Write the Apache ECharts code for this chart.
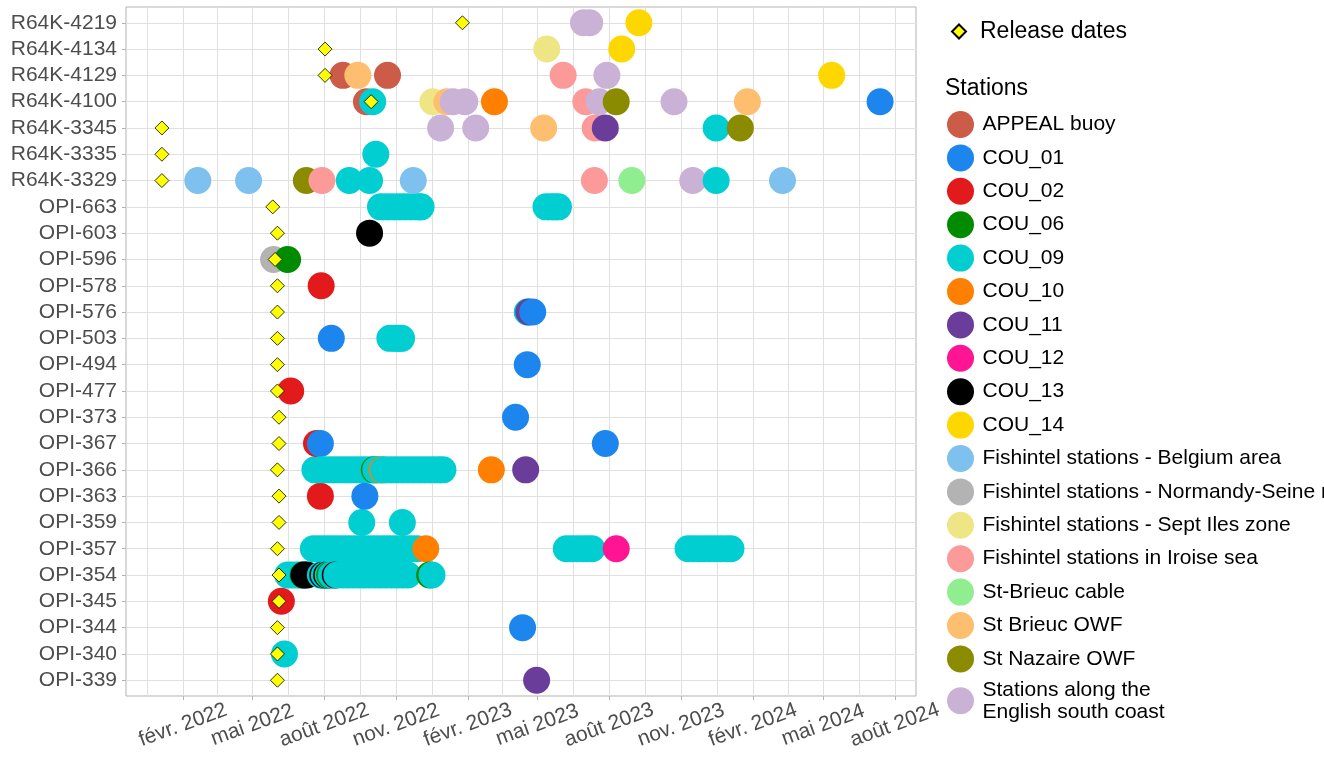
<!DOCTYPE html>
<html>
<head>
<meta charset="utf-8">
<script src="https://cdn.jsdelivr.net/npm/echarts@6/dist/echarts.min.js"></script>
<style>
  html, body { margin: 0; padding: 0; background: #fff; }
  #chart { width: 1324px; height: 764px; }
</style>
</head>
<body>
<div id="chart"></div>
<script>
// tags, top to bottom
const TAGS = [
  "R64K-4219", "R64K-4134", "R64K-4129", "R64K-4100", "R64K-3345", "R64K-3335", "R64K-3329",
  "OPI-663", "OPI-603", "OPI-596", "OPI-578", "OPI-576", "OPI-503", "OPI-494", "OPI-477",
  "OPI-373", "OPI-367", "OPI-366", "OPI-363", "OPI-359", "OPI-357", "OPI-354", "OPI-345",
  "OPI-344", "OPI-340", "OPI-339",
];

const STATIONS = [
  "APPEAL buoy", "COU_01", "COU_02", "COU_06", "COU_09", "COU_10", "COU_11", "COU_12",
  "COU_13", "COU_14", "Fishintel stations - Belgium area",
  "Fishintel stations - Normandy-Seine river", "Fishintel stations - Sept Iles zone",
  "Fishintel stations in Iroise sea", "St-Brieuc cable", "St Brieuc OWF", "St Nazaire OWF",
  "Stations along the\nEnglish south coast",
];

const STATION_COLORS = [
  "#CC5C48", "#1C86EE", "#E31A1C", "#008B00", "#00CED1", "#FF7F00", "#6A3D9A", "#FF1493",
  "#000000", "#FFD700", "#7EC0EE", "#B3B3B3", "#EEE685", "#FB9A99", "#90EE90", "#FDBF6F",
  "#8B8B00", "#CAB2D6",
];

const X_MIN = "2021-11-20";
const X_MAX = "2024-08-28";
const BREAKS = [
  "2021-11-01", "2022-02-01", "2022-05-01", "2022-08-01", "2022-11-01", "2023-02-01",
  "2023-05-01", "2023-08-01", "2023-11-01", "2024-02-01", "2024-05-01", "2024-08-01",
  "2024-11-01",
];
const BREAK_LABELS = [
  "nov. 2021", "févr. 2022", "mai 2022", "août 2022", "nov. 2022", "févr. 2023", "mai 2023",
  "août 2023", "nov. 2023", "févr. 2024", "mai 2024", "août 2024", "nov. 2024",
];

const RELEASES = [
  ["R64K-4219", "2023-01-25"], ["R64K-4134", "2022-08-02"], ["R64K-4129", "2022-08-02"],
  ["R64K-4100", "2022-09-30"], ["R64K-3345", "2022-01-05"], ["R64K-3335", "2022-01-05"],
  ["R64K-3329", "2022-01-05"], ["OPI-663", "2022-05-27"], ["OPI-603", "2022-06-02"],
  ["OPI-596", "2022-05-30"], ["OPI-578", "2022-06-02"], ["OPI-576", "2022-06-02"],
  ["OPI-503", "2022-06-02"], ["OPI-494", "2022-06-02"], ["OPI-477", "2022-06-02"],
  ["OPI-373", "2022-06-04"], ["OPI-367", "2022-06-04"], ["OPI-366", "2022-06-02"],
  ["OPI-363", "2022-06-04"], ["OPI-359", "2022-06-04"], ["OPI-357", "2022-06-02"],
  ["OPI-354", "2022-06-04"], ["OPI-345", "2022-06-04"], ["OPI-344", "2022-06-02"],
  ["OPI-340", "2022-06-02"], ["OPI-339", "2022-06-02"],
];

// detections per station: [tag, date]
const DET_APPEAL = [["R64K-4129", "2022-08-25"], ["R64K-4129", "2022-10-21"], ["R64K-4100", "2022-09-24"]];
const DET_COU_01 = [
  ["R64K-4100", "2024-07-13"], ["OPI-576", "2023-04-25"], ["OPI-503", "2022-08-10"],
  ["OPI-494", "2023-04-18"], ["OPI-373", "2023-04-03"], ["OPI-367", "2022-07-27"],
  ["OPI-367", "2023-07-27"], ["OPI-363", "2022-09-22"], ["OPI-344", "2023-04-12"],
];
const DET_COU_02 = [
  ["OPI-578", "2022-07-28"], ["OPI-477", "2022-06-19"], ["OPI-367", "2022-07-22"],
  ["OPI-363", "2022-07-27"], ["OPI-345", "2022-06-07"],
];
const DET_COU_06 = [
  ["OPI-596", "2022-06-15"], ["OPI-366", "2022-10-04"], ["OPI-354", "2022-07-05"],
  ["OPI-354", "2022-08-08"], ["OPI-354", "2022-12-14"],
];
const DET_COU_09 = [
  ["R64K-4100", "2022-10-02"], ["R64K-3345", "2023-12-16"], ["R64K-3335", "2022-10-06"],
  ["R64K-3329", "2022-09-02"], ["R64K-3329", "2022-09-28"], ["R64K-3329", "2023-12-16"],
  ["OPI-663", "2022-10-12"], ["OPI-663", "2022-10-19"], ["OPI-663", "2022-10-26"], ["OPI-663", "2022-11-02"],
  ["OPI-663", "2022-11-09"], ["OPI-663", "2022-11-16"], ["OPI-663", "2022-11-23"], ["OPI-663", "2022-11-30"],
  ["OPI-663", "2022-12-03"], ["OPI-663", "2023-05-12"], ["OPI-663", "2023-05-18"], ["OPI-663", "2023-05-23"],
  ["OPI-663", "2023-05-28"],
  ["OPI-576", "2023-04-18"],
  ["OPI-503", "2022-10-24"], ["OPI-503", "2022-10-31"], ["OPI-503", "2022-11-04"], ["OPI-503", "2022-11-08"],
  ["OPI-366", "2022-07-20"], ["OPI-366", "2022-07-27"], ["OPI-366", "2022-08-03"], ["OPI-366", "2022-08-10"],
  ["OPI-366", "2022-08-17"], ["OPI-366", "2022-08-24"], ["OPI-366", "2022-08-31"], ["OPI-366", "2022-09-07"],
  ["OPI-366", "2022-09-14"], ["OPI-366", "2022-09-21"], ["OPI-366", "2022-09-28"], ["OPI-366", "2022-10-06"],
  ["OPI-366", "2022-10-10"], ["OPI-366", "2022-10-16"], ["OPI-366", "2022-10-23"], ["OPI-366", "2022-10-30"],
  ["OPI-366", "2022-11-06"], ["OPI-366", "2022-11-13"], ["OPI-366", "2022-11-20"], ["OPI-366", "2022-11-27"],
  ["OPI-366", "2022-12-04"], ["OPI-366", "2022-12-11"], ["OPI-366", "2022-12-18"], ["OPI-366", "2022-12-25"],
  ["OPI-366", "2022-12-31"],
  ["OPI-359", "2022-09-18"], ["OPI-359", "2022-11-09"],
  ["OPI-357", "2022-07-18"], ["OPI-357", "2022-07-25"], ["OPI-357", "2022-08-01"], ["OPI-357", "2022-08-08"],
  ["OPI-357", "2022-08-15"], ["OPI-357", "2022-08-22"], ["OPI-357", "2022-08-29"], ["OPI-357", "2022-09-05"],
  ["OPI-357", "2022-09-12"], ["OPI-357", "2022-09-19"], ["OPI-357", "2022-09-26"], ["OPI-357", "2022-10-03"],
  ["OPI-357", "2022-10-10"], ["OPI-357", "2022-10-17"], ["OPI-357", "2022-10-24"], ["OPI-357", "2022-10-31"],
  ["OPI-357", "2022-11-07"], ["OPI-357", "2022-11-14"], ["OPI-357", "2022-11-21"], ["OPI-357", "2022-11-28"],
  ["OPI-357", "2023-06-07"], ["OPI-357", "2023-06-14"], ["OPI-357", "2023-06-21"], ["OPI-357", "2023-06-28"],
  ["OPI-357", "2023-07-04"], ["OPI-357", "2023-07-10"],
  ["OPI-357", "2023-11-10"], ["OPI-357", "2023-11-17"], ["OPI-357", "2023-11-24"], ["OPI-357", "2023-12-01"],
  ["OPI-357", "2023-12-08"], ["OPI-357", "2023-12-15"], ["OPI-357", "2023-12-22"], ["OPI-357", "2023-12-29"],
  ["OPI-357", "2024-01-04"],
  ["OPI-354", "2022-06-15"], ["OPI-354", "2022-06-21"], ["OPI-354", "2022-06-27"], ["OPI-354", "2022-07-01"],
  ["OPI-354", "2022-07-27"], ["OPI-354", "2022-08-01"], ["OPI-354", "2022-08-06"], ["OPI-354", "2022-08-10"],
  ["OPI-354", "2022-08-17"], ["OPI-354", "2022-08-24"], ["OPI-354", "2022-08-31"], ["OPI-354", "2022-09-07"],
  ["OPI-354", "2022-09-14"], ["OPI-354", "2022-09-21"], ["OPI-354", "2022-09-28"], ["OPI-354", "2022-10-05"],
  ["OPI-354", "2022-10-12"], ["OPI-354", "2022-10-19"], ["OPI-354", "2022-10-26"], ["OPI-354", "2022-11-02"],
  ["OPI-354", "2022-11-09"], ["OPI-354", "2022-11-16"], ["OPI-354", "2022-12-17"],
  ["OPI-340", "2022-06-11"],
];
const DET_COU_10 = [
  ["R64K-4100", "2023-03-07"], ["OPI-366", "2022-10-14"], ["OPI-366", "2023-03-03"], ["OPI-357", "2022-12-09"],
];
const DET_COU_11 = [
  ["R64K-3345", "2023-07-27"], ["OPI-576", "2023-04-20"], ["OPI-366", "2023-04-16"], ["OPI-339", "2023-04-30"],
];
const DET_COU_12 = [["OPI-357", "2023-08-10"]];
const DET_COU_13 = [
  ["OPI-603", "2022-09-28"], ["OPI-354", "2022-07-06"], ["OPI-354", "2022-07-10"],
  ["OPI-354", "2022-07-30"], ["OPI-354", "2022-08-04"], ["OPI-354", "2022-08-15"],
];
const DET_COU_14 = [["R64K-4219", "2023-09-08"], ["R64K-4134", "2023-08-17"], ["R64K-4129", "2024-05-12"]];
const DET_BELGIUM = [
  ["R64K-3329", "2022-02-20"], ["R64K-3329", "2022-04-26"], ["R64K-3329", "2022-11-23"], ["R64K-3329", "2024-03-10"],
];
const DET_NORMANDY = [["OPI-596", "2022-05-28"]];
const DET_SEPT_ILES = [["R64K-4134", "2023-05-13"], ["R64K-4100", "2022-12-18"]];
const DET_IROISE = [
  ["R64K-4129", "2023-06-03"], ["R64K-4100", "2023-07-02"], ["R64K-3345", "2023-07-14"],
  ["R64K-3329", "2022-07-29"], ["R64K-3329", "2023-07-13"],
];
const DET_STB_CABLE = [["R64K-3329", "2023-08-30"]];
const DET_STB_OWF = [
  ["R64K-4129", "2022-09-13"], ["R64K-4100", "2023-01-05"], ["R64K-4100", "2024-01-25"], ["R64K-3345", "2023-05-09"],
];
const DET_NAZAIRE = [["R64K-4100", "2023-08-10"], ["R64K-3345", "2024-01-16"], ["R64K-3329", "2022-07-09"]];
const DET_ENGLISH = [
  ["R64K-4219", "2023-06-29"], ["R64K-4219", "2023-07-07"], ["R64K-4129", "2023-07-29"],
  ["R64K-4100", "2023-01-13"], ["R64K-4100", "2023-01-28"], ["R64K-4100", "2023-07-19"],
  ["R64K-4100", "2023-10-23"], ["R64K-3345", "2022-12-28"], ["R64K-3345", "2023-02-11"],
  ["R64K-3329", "2023-11-16"],
];

// same order as STATIONS
const DETECTIONS = [
  DET_APPEAL, DET_COU_01, DET_COU_02, DET_COU_06, DET_COU_09, DET_COU_10, DET_COU_11, DET_COU_12,
  DET_COU_13, DET_COU_14, DET_BELGIUM, DET_NORMANDY, DET_SEPT_ILES, DET_IROISE, DET_STB_CABLE,
  DET_STB_OWF, DET_NAZAIRE, DET_ENGLISH,
];

const FONT = "'Liberation Sans', Arial, sans-serif";

function ts(s) {
  const [y, m, d] = s.split("-").map(Number);
  return Date.UTC(y, m - 1, d);
}

const majorValues = BREAKS.map(ts);
const labelMap = {};
majorValues.forEach((v, i) => (labelMap[v] = BREAK_LABELS[i]));
// ggplot-like minor grid lines halfway between breaks
const gridValues = [];
majorValues.forEach((v, i) => {
  gridValues.push(v);
  if (i < majorValues.length - 1) gridValues.push((v + majorValues[i + 1]) / 2);
});
const tagIdx = TAGS.map((_, i) => i);

// draw all detections in date order, like the original plot
const points = [];
DETECTIONS.forEach((list, s) => {
  for (const [tag, date] of list) points.push({ t: ts(date), y: TAGS.indexOf(tag), s });
});
points.sort((a, b) => a.t - b.t);

const detData = points.map((p) => ({
  value: [p.t, p.y],
  itemStyle: { color: STATION_COLORS[p.s], opacity: 1 },
}));
const relData = RELEASES.map(([tag, date]) => [ts(date), TAGS.indexOf(tag)]);

const chart = echarts.init(document.getElementById("chart"));

chart.setOption({
  animation: false,
  backgroundColor: "#fff",
  textStyle: { fontFamily: FONT },
  title: {
    text: "Stations",
    left: 940,
    top: 72,
    textStyle: { fontSize: 23, fontWeight: "normal", color: "#000", fontFamily: FONT },
  },
  grid: {
    left: 126,
    top: 7,
    right: 408,
    bottom: 68,
    show: true,
    borderColor: "#b3b3b3",
    borderWidth: 1,
    outerBoundsMode: "none",
  },
  legend: [
    {
      data: ["Release dates"],
      left: 946,
      top: 15,
      orient: "vertical",
      icon: "diamond",
      itemWidth: 14,
      itemHeight: 14,
      selectedMode: false,
      textStyle: { fontSize: 23, color: "#000", fontFamily: FONT, padding: [0, 0, 0, 9] },
    },
    {
      data: STATIONS,
      left: 942,
      top: 106,
      orient: "vertical",
      icon: "circle",
      itemWidth: 27,
      itemHeight: 27,
      itemGap: 6.4,
      selectedMode: false,
      textStyle: {
        fontSize: 21,
        lineHeight: 22,
        color: "#000",
        fontFamily: FONT,
        padding: [0, 0, 0, 3.5],
      },
    },
  ],
  xAxis: [
    {
      type: "value",
      min: ts(X_MIN),
      max: ts(X_MAX),
      axisLine: { show: false },
      axisTick: { show: false, customValues: gridValues },
      splitLine: { show: true, lineStyle: { color: "#e0e0e0", width: 1 } },
      axisLabel: {
        customValues: majorValues,
        formatter: (v) => labelMap[v] || "",
        rotate: 20,
        align: "center",
        verticalAlign: "middle",
        margin: 29,
        fontSize: 21,
        color: "#4d4d4d",
        fontFamily: FONT,
      },
    },
    {
      type: "value",
      min: ts(X_MIN),
      max: ts(X_MAX),
      position: "bottom",
      axisLine: { show: false },
      axisTick: { show: true, customValues: majorValues, length: 4, lineStyle: { color: "#b3b3b3" } },
      axisLabel: { show: false },
      splitLine: { show: false },
    },
  ],
  yAxis: {
    type: "value",
    inverse: true,
    min: -0.6,
    max: TAGS.length - 1 + 0.6,
    axisLine: { show: false },
    axisTick: { show: true, customValues: tagIdx, length: 4, lineStyle: { color: "#b3b3b3" } },
    splitLine: { show: true, lineStyle: { color: "#e0e0e0", width: 1 } },
    axisLabel: {
      customValues: tagIdx,
      formatter: (v) => TAGS[v] || "",
      fontSize: 21,
      color: "#4d4d4d",
      margin: 9,
      fontFamily: FONT,
    },
  },
  series: [
    // legend entries only
    ...STATIONS.map((name, i) => ({
      name,
      type: "scatter",
      data: [],
      itemStyle: { color: STATION_COLORS[i], opacity: 1 },
    })),
    {
      name: "detections",
      type: "scatter",
      symbol: "circle",
      symbolSize: 27,
      data: detData,
      z: 3,
      itemStyle: { opacity: 1 },
      emphasis: { disabled: true },
    },
    {
      name: "Release dates",
      type: "scatter",
      symbol: "diamond",
      symbolSize: 14,
      data: relData,
      z: 4,
      itemStyle: { color: "#FFFF00", borderColor: "#000", borderWidth: 0.8, opacity: 1 },
      emphasis: { disabled: true },
    },
  ],
});
</script>
</body>
</html>
